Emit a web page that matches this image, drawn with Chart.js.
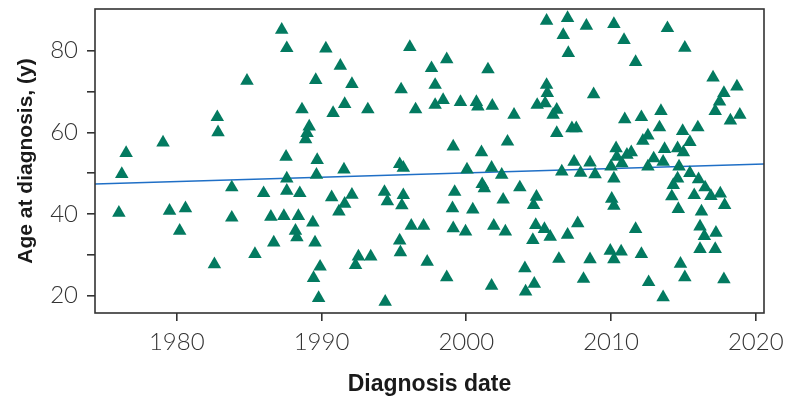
<!DOCTYPE html>
<html>
<head>
<meta charset="utf-8">
<script src="https://cdn.jsdelivr.net/npm/chart.js@4.4.1/dist/chart.umd.min.js"></script>
<style>
  html, body { margin: 0; padding: 0; background: #fff; }
  #wrap { width: 787px; height: 407px; }
</style>
</head>
<body>
<div id="wrap"><canvas id="myChart"></canvas></div>
<script>
// year of diagnosis / age at diagnosis
var diagYear = [
  1976.0, 1976.2, 1976.5, 1979.05, 1979.5, 1980.2, 1980.6, 1982.6, 1982.8, 1982.85,
  1983.8, 1983.8, 1984.85, 1985.4, 1986.0, 1986.5, 1986.7, 1987.25, 1987.4, 1987.55,
  1987.6, 1987.6, 1987.6, 1988.2, 1988.3, 1988.4, 1988.5, 1988.65, 1988.9, 1989.0,
  1989.15, 1989.4, 1989.45, 1989.55, 1989.6, 1989.65, 1989.7, 1989.8, 1989.9, 1990.3,
  1990.7, 1990.8, 1991.2, 1991.3, 1991.55, 1991.6, 1991.6, 1992.1, 1992.1, 1992.35,
  1992.55, 1993.2, 1993.4, 1994.35, 1994.4, 1994.55, 1995.4, 1995.45, 1995.4, 1995.65,
  1995.5, 1995.65, 1995.55, 1996.1, 1996.2, 1996.5, 1997.05, 1997.3, 1997.6, 1997.85,
  1997.85, 1998.4, 1998.65, 1998.65, 1999.1, 1999.2, 1999.05, 1999.1, 1999.6, 1999.95,
  2000.05, 2000.45, 2000.7, 2000.8, 2001.05, 2001.1, 2001.25, 2001.5, 2001.75, 2001.75,
  2001.8, 2001.9, 2002.45, 2002.55, 2002.7, 2002.85, 2003.3, 2003.7, 2004.05, 2004.1,
  2004.6, 2004.7, 2004.65, 2004.85, 2004.8, 2004.9, 2005.4, 2005.45, 2005.55, 2005.55,
  2005.6, 2005.8, 2006.0, 2006.25, 2006.25, 2006.4, 2006.6, 2006.7, 2007.0, 2007.0,
  2007.05, 2007.3, 2007.45, 2007.6, 2007.7, 2007.9, 2008.1, 2008.3, 2008.55, 2008.55,
  2008.8, 2008.9, 2009.95, 2010.0, 2010.05, 2010.2, 2010.2, 2010.2, 2010.2, 2010.35,
  2010.4, 2010.7, 2010.75, 2010.9, 2010.95, 2011.1, 2011.4, 2011.7, 2011.7, 2012.1,
  2012.1, 2012.2, 2012.55, 2012.55, 2012.6, 2012.95, 2013.35, 2013.45, 2013.6, 2013.6,
  2013.7, 2013.9, 2014.2, 2014.3, 2014.6, 2014.6, 2014.65, 2014.7, 2014.8, 2014.95,
  2015.0, 2015.1, 2015.1, 2015.45, 2015.45, 2015.75, 2016.0, 2016.05, 2016.15, 2016.15,
  2016.25, 2016.45, 2016.5, 2016.9, 2017.05, 2017.2, 2017.2, 2017.25, 2017.5, 2017.55,
  2017.8, 2017.8, 2017.85, 2018.25, 2018.7, 2018.9
];
var diagAge = [
  40.3, 49.8, 54.9, 57.5, 40.8, 35.9, 41.4, 27.7, 63.7, 60.0,
  46.5, 39.1, 72.6, 30.2, 45.1, 39.3, 33.0, 85.1, 39.5, 54.0,
  80.6, 48.7, 45.7, 35.9, 34.3, 39.5, 45.1, 65.6, 58.3, 59.8,
  61.4, 37.9, 24.3, 33.0, 72.8, 49.6, 53.2, 19.4, 27.1, 80.5,
  44.1, 64.7, 40.6, 76.3, 50.9, 66.9, 42.5, 71.8, 44.7, 27.5,
  29.6, 65.6, 29.6, 45.4, 18.5, 43.1, 33.5, 30.6, 52.2, 51.3,
  70.5, 44.6, 42.1, 80.9, 37.1, 65.6, 37.1, 28.3, 75.7, 71.6,
  66.7, 67.9, 77.9, 24.5, 56.5, 45.4, 41.4, 36.5, 67.4, 35.7,
  50.9, 41.1, 67.4, 66.3, 55.1, 47.3, 46.3, 75.4, 51.3, 22.4,
  66.5, 37.1, 49.6, 43.5, 35.7, 57.7, 64.3, 46.5, 26.7, 21.0,
  33.6, 22.9, 42.2, 44.2, 37.3, 66.7, 36.3, 67.1, 71.6, 87.3,
  69.6, 34.4, 64.3, 65.5, 59.8, 29.0, 50.4, 83.8, 88.0, 34.9,
  79.4, 61.0, 52.8, 61.0, 37.7, 50.1, 24.1, 86.1, 52.6, 28.9,
  69.3, 49.7, 31.0, 51.6, 43.7, 42.0, 48.7, 86.5, 28.9, 56.1,
  54.0, 30.8, 52.4, 82.6, 63.2, 54.5, 55.1, 77.2, 36.3, 63.7,
  30.2, 57.9, 59.2, 51.6, 23.3, 53.6, 61.2, 65.2, 52.8, 19.6,
  55.9, 85.5, 44.3, 47.1, 48.7, 56.1, 41.2, 51.6, 27.8, 60.3,
  55.1, 80.7, 24.5, 57.6, 50.0, 44.6, 61.2, 48.5, 36.9, 31.4,
  40.6, 34.6, 46.5, 44.4, 73.4, 65.2, 31.4, 35.4, 67.5, 45.0,
  69.6, 24.0, 42.2, 62.9, 71.2, 64.3
];

// fitted line, end points at the axis limits
var trendYear = [1974.35, 2020.57];
var trendAge = [47.35, 52.25];

var xTicks = [1980, 1990, 2000, 2010, 2020];
var yTicks = [20, 30, 40, 50, 60, 70, 80];
var yLabelled = [20, 40, 60, 80];

var points = diagYear.map(function (yr, i) { return { x: yr, y: diagAge[i] }; });
var trend = trendYear.map(function (yr, i) { return { x: yr, y: trendAge[i] }; });

var frame = {
  id: "frame",
  afterDatasetsDraw: function (chart) {
    var a = chart.chartArea, c = chart.ctx;
    c.save();
    c.strokeStyle = "#333";
    c.lineWidth = 1.6;
    c.strokeRect(a.left, a.top, a.right - a.left, a.bottom - a.top);
    c.restore();
  }
};

var tickFont = { family: "Lato, 'DejaVu Sans Condensed', sans-serif", size: 24, weight: 300 };

var ctx = document.getElementById("myChart").getContext("2d");
var myChart = new Chart(ctx, {
  type: "scatter",
  data: {
    datasets: [
      {
        data: points,
        pointStyle: "triangle",
        pointRadius: 7.8,
        pointHoverRadius: 7.8,
        backgroundColor: "#037a60",
        borderWidth: 0,
        order: 1
      },
      {
        type: "line",
        data: trend,
        borderColor: "#1f6fc6",
        borderWidth: 1.5,
        pointRadius: 0,
        fill: false,
        order: 2
      }
    ]
  },
  options: {
    responsive: true,
    maintainAspectRatio: false,
    animation: false,
    layout: { padding: { top: 9, right: 23, bottom: 0, left: 0 } },
    plugins: {
      legend: { display: false },
      tooltip: { enabled: false }
    },
    scales: {
      x: {
        type: "linear",
        min: trendYear[0],
        max: trendYear[1],
        afterFit: function (s) { s.height = 94; s.paddingLeft = 0; s.paddingRight = 0; },
        afterBuildTicks: function (s) {
          s.ticks = xTicks.map(function (v) { return { value: v }; });
        },
        border: { display: false },
        grid: { drawOnChartArea: false, drawTicks: true, tickLength: 8, color: "#333", lineWidth: 1.6 },
        ticks: {
          padding: 7,
          color: "#333",
          font: tickFont,
          callback: function (v) { return String(v); }
        },
        title: {
          display: true,
          text: "Diagnosis date",
          color: "#1a1a1a",
          padding: { top: 0, bottom: 9 },
          font: { family: "'Liberation Sans', sans-serif", size: 23, weight: "bold" }
        }
      },
      y: {
        min: 15.76,
        max: 90.2,
        afterFit: function (s) { s.width = 95; s.paddingTop = 0; s.paddingBottom = 0; },
        afterBuildTicks: function (s) {
          s.ticks = yTicks.map(function (v) { return { value: v }; });
        },
        border: { display: false },
        grid: { drawOnChartArea: false, drawTicks: true, tickLength: 8, color: "#333", lineWidth: 1.6 },
        ticks: {
          padding: 9,
          color: "#333",
          font: tickFont,
          callback: function (v) { return yLabelled.indexOf(v) >= 0 ? String(v) : ""; }
        },
        title: {
          display: true,
          text: "Age at diagnosis, (y)",
          color: "#1a1a1a",
          padding: { top: 14, bottom: 0 },
          font: { family: "'Liberation Sans', sans-serif", size: 21, weight: "bold" }
        }
      }
    }
  },
  plugins: [frame]
});
</script>
</body>
</html>
